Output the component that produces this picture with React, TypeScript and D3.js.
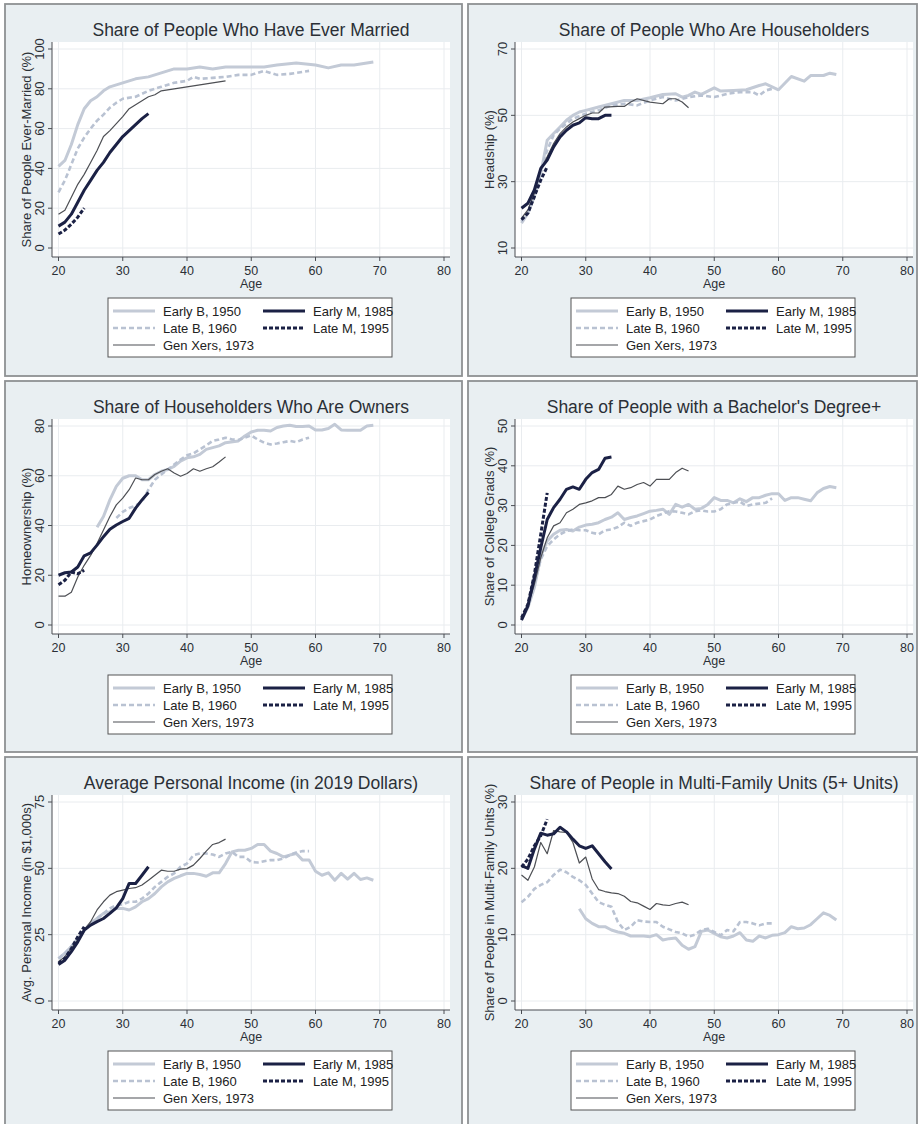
import React from 'react';
import * as d3 from 'd3';

type Pt = [number, number];

const AGE_TICKS = [20, 30, 40, 50, 60, 70, 80];

// ---- Ever married (%) ----
const marriedEarlyB: Pt[] = [[20,41],[21,44],[22,52],[23,62],[24,70],[25,74],[26,76],[27,79],[28,81],[29,82],[30,83],[32,85],[34,86],[36,88],[38,90],[40,90],[42,91],[44,90],[46,91],[48,91],[50,91],[52,91],[54,92],[57,93],[60,92],[62,90.5],[64,92],[66,92],[68,93],[69,93.5]];
const marriedLateB: Pt[] = [[20,28],[21,34],[22,42],[23,50],[24,55.5],[25,60],[26,64],[27,67],[28,70.5],[29,73],[30,75],[32,76],[34,79],[36,81],[38,83],[40,84],[41,86],[42,85],[44,85.5],[46,86],[48,87],[50,87],[52,89],[54,87],[56,87.5],[58,88.5],[59,89]];
const marriedGenX: Pt[] = [[20,17],[21,19],[22,25.5],[23,32],[24,37],[25,43],[26,49],[27,56],[28,59],[29,62.5],[30,66],[31,70],[32,72],[33,74],[34,76],[35,77],[36,79],[38,80],[40,81],[42,82],[44,83],[46,84]];
const marriedEarlyM: Pt[] = [[20,11],[21,13],[22,17],[23,23],[24,29],[25,34],[26,39],[27,43],[28,48],[29,52],[30,56],[31,59],[32,62],[33,65],[34,67.5]];
const marriedLateM: Pt[] = [[20,7],[21,9],[22,12],[23,15.5],[24,20]];

// ---- Headship (%) ----
const headEarlyB: Pt[] = [[20,17.5],[21,20.5],[22,25.5],[23,32.5],[24,42.5],[25,44.5],[26,46.5],[27,48.5],[28,50],[29,51],[30,51.5],[31,52],[32,52.5],[34,53.5],[36,54.5],[38,54.5],[40,55.3],[42,56.3],[44,56.5],[45,55.5],[46,56],[47,57],[48,56.3],[49,57.3],[50,58.3],[51,57.3],[53,57.5],[55,57.7],[57,59],[58,59.5],[60,57.7],[62,61.7],[64,60.3],[65,62],[67,62],[68,62.7],[69,62.3]];
const headLateB: Pt[] = [[20,18],[21,21],[22,26],[23,33.5],[24,39.5],[25,44],[26,46],[28,49],[30,50.5],[32,51.5],[34,53],[36,53.5],[38,53],[40,54.5],[42,55.5],[44,54.5],[46,55.5],[48,56],[50,55.5],[52,56.5],[54,57],[56,57],[57,56],[58,57.5],[59,58]];
const headGenX: Pt[] = [[20,19],[21,21.5],[22,26.5],[23,33.5],[24,37.5],[25,41.5],[26,44.5],[27,46.5],[28,48],[29,49],[30,50],[31,50.7],[32,50.7],[33,52.5],[35,52.7],[36,52.7],[37,54],[38,55],[40,54],[42,53.5],[43,55],[44,55],[45,54],[46,52.3]];
const headEarlyM: Pt[] = [[20,22],[21,23.5],[22,27.5],[23,34],[24,36.5],[25,40.5],[26,43.5],[27,45.5],[28,47],[29,47.7],[30,49.3],[31,49],[32,49],[33,50],[34,50]];
const headLateM: Pt[] = [[20,18.5],[21,20.5],[22,25.5],[23,30.5],[24,34.5]];

// ---- Homeownership among householders (%) ----
const ownEarlyB: Pt[] = [[26,39.3],[27,43.6],[28,50.3],[29,55.7],[30,59],[31,60],[32,60],[33,58.4],[34,58.4],[35,60.5],[36,61.8],[37,62.5],[38,63.8],[39,65.9],[40,67.2],[41,67.6],[42,68.6],[43,70.6],[44,71.3],[45,72],[46,73.3],[48,74],[49,76],[50,77.6],[51,78.3],[52,78.3],[53,78],[54,79.4],[55,80],[56,80.3],[57,79.8],[58,79.8],[59,80],[60,78.4],[61,78.4],[62,79],[63,80.7],[64,78.4],[65,78.3],[67,78.3],[68,80],[69,80.3]];
const ownLateB: Pt[] = [[29,43],[30,45.5],[31,47],[32,48],[33,49.5],[34,54.4],[35,58.4],[36,60.5],[37,62.5],[38,64.5],[39,66.5],[40,68.2],[41,69],[42,70.6],[43,72.2],[44,74],[45,74.6],[46,75.3],[47,74.6],[48,74.4],[49,75.3],[50,76.2],[51,74.6],[52,73.3],[53,72.6],[54,73],[55,73.5],[56,74],[57,73.5],[58,74.6],[59,75.3]];
const ownGenX: Pt[] = [[20,11.6],[21,11.6],[22,13.2],[23,19.3],[24,24],[25,28],[26,32.8],[27,38.2],[28,43.6],[29,48.3],[30,51],[31,54.4],[32,59.1],[33,58.4],[34,58.4],[35,60.5],[36,61.8],[37,62.8],[38,61.1],[39,59.8],[40,60.9],[41,62.8],[42,61.8],[43,62.8],[44,63.6],[45,65.5],[46,67.6]];
const ownEarlyM: Pt[] = [[20,20],[21,21],[22,21.3],[23,23.3],[24,27.8],[25,29],[26,32.1],[27,35.5],[28,38.5],[29,40.2],[30,41.6],[31,42.9],[32,47],[33,50.3],[34,53.3]];
const ownLateM: Pt[] = [[20,16.2],[21,18],[22,21.3],[23,20.6],[24,22]];

// ---- Bachelor's degree or more (%) ----
const collEarlyB: Pt[] = [[20,1.4],[21,4.4],[22,9.4],[23,17.3],[24,21.1],[25,22.8],[26,23.8],[27,24],[28,23.6],[29,24.6],[30,25.1],[31,25.3],[32,25.7],[33,26.5],[34,27.1],[35,28.2],[36,26.5],[37,27],[38,27.4],[39,28],[40,28.6],[41,28.8],[42,29.1],[43,27.8],[44,30.3],[45,29.6],[46,30.3],[47,29.1],[48,29.3],[49,30.3],[50,32],[51,31.3],[52,31.3],[53,30.7],[54,31.7],[55,31],[56,32],[57,32],[58,32.6],[59,33],[60,33],[61,31.3],[62,32],[63,32],[64,31.6],[65,31.2],[66,33.2],[67,34.3],[68,34.8],[69,34.5]];
const collLateB: Pt[] = [[20,1.4],[21,5.2],[22,10.2],[23,16.5],[24,19.8],[25,21.5],[26,22.8],[27,23.6],[28,24],[29,23.8],[30,23.8],[31,23.2],[32,22.8],[33,23.8],[34,24],[35,24.6],[36,25.7],[37,24.9],[38,25.7],[39,26.1],[40,26.5],[41,27.4],[42,28],[43,28.6],[44,28.5],[45,28.2],[46,27.8],[47,28.6],[48,28.8],[49,28.5],[50,28.5],[51,29.1],[52,30.3],[53,30.7],[54,31],[55,29.9],[56,30.3],[57,30.5],[58,30.7],[59,31.8]];
const collGenX: Pt[] = [[20,1.8],[21,4.8],[22,10.2],[23,16.9],[24,21.9],[25,24.9],[26,25.7],[27,28.2],[28,29.1],[29,30.3],[30,30.7],[31,31.2],[32,32],[33,32],[34,32.8],[35,34.9],[36,34.1],[37,34.5],[38,35.3],[39,35.8],[40,34.9],[41,36.6],[42,36.6],[43,36.6],[44,38.3],[45,39.4],[46,38.7]];
const collEarlyM: Pt[] = [[20,1.2],[21,4.8],[22,11.9],[23,19.4],[24,26.5],[25,29.5],[26,31.6],[27,34.1],[28,34.7],[29,34.1],[30,36.6],[31,38.3],[32,39.1],[33,41.9],[34,42.2]];
const collLateM: Pt[] = [[20,1.8],[21,5.2],[22,12.7],[23,22.8],[24,33.2]];

// ---- Average personal income ($1,000s, 2019 dollars) ----
const incEarlyB: Pt[] = [[20,16],[21,18],[22,20.5],[23,23.6],[24,26.7],[25,29.2],[26,31.1],[27,33],[28,33.6],[29,34.9],[30,34.9],[31,34.3],[32,35.5],[33,37.4],[34,38.6],[35,40.5],[36,43],[37,44.9],[38,46.2],[39,47.2],[40,48.1],[41,48.1],[42,47.7],[43,47],[44,48.3],[45,48.3],[46,51.8],[47,56.2],[48,56.8],[49,56.8],[50,57.5],[51,59],[52,59],[53,56.5],[54,55.6],[55,54.3],[56,55],[57,55.6],[58,53.1],[59,53.1],[60,48.9],[61,47.4],[62,48.3],[63,45.5],[64,48.1],[65,45.9],[66,48.1],[67,45.8],[68,46.4],[69,45.5]];
const incLateB: Pt[] = [[20,16],[21,18],[22,20.5],[23,23.6],[24,26.7],[25,29.2],[26,31.1],[27,33],[28,34.9],[29,36.1],[30,36.4],[31,37.4],[32,37.4],[33,38.6],[34,40.5],[35,43],[36,44.9],[37,46.8],[38,48.1],[39,50.6],[40,51.8],[41,55],[42,55.6],[43,55.6],[44,55.2],[45,54.3],[46,55.6],[47,56.2],[48,54.3],[49,54.3],[50,52.4],[51,52.2],[52,52.7],[53,53.1],[54,53.1],[55,53.7],[56,55],[57,56],[58,56.5],[59,56.5]];
const incGenX: Pt[] = [[20,14.8],[21,16.7],[22,19.8],[23,23],[24,26.7],[25,29.9],[26,34.3],[27,37.4],[28,39.9],[29,41.2],[30,41.8],[31,42.4],[32,42.7],[33,43.7],[34,45.5],[35,47.4],[36,49.3],[37,48.9],[38,48.9],[39,49.7],[40,49.9],[41,51.2],[42,53.7],[43,56.5],[44,59],[45,59.7],[46,61]];
const incEarlyM: Pt[] = [[20,13.8],[21,15.4],[22,18.6],[23,22.3],[24,26.7],[25,28.6],[26,29.9],[27,31.1],[28,33],[29,35.1],[30,38.6],[31,44.3],[32,44.3],[33,47.4],[34,50.6]];
const incLateM: Pt[] = [[20,14.2],[21,16],[22,19.8],[23,24.2],[24,28]];

// ---- Living in multi-family (5+ unit) structures (%) ----
const mfuEarlyB: Pt[] = [[29,13.9],[30,12.4],[31,11.7],[32,11.2],[33,11.2],[34,10.7],[35,10.4],[36,10.2],[37,9.8],[38,9.8],[39,9.8],[40,9.7],[41,10],[42,9.2],[43,9.4],[44,9.5],[45,8.4],[46,7.8],[47,8.2],[48,10.5],[49,10.7],[50,10.2],[51,9.7],[52,9.5],[53,9.8],[54,10.3],[55,9.2],[56,9],[57,9.8],[58,9.5],[59,9.9],[60,10],[61,10.3],[62,11.2],[63,10.9],[64,11],[65,11.5],[66,12.4],[67,13.3],[68,12.9],[69,12.2]];
const mfuLateB: Pt[] = [[20,14.9],[21,15.7],[22,16.9],[23,17.5],[24,17.9],[25,19],[26,19.8],[27,19.4],[28,18.7],[29,18.2],[30,17.5],[31,16.2],[32,14.9],[33,14.5],[34,14.2],[35,11.9],[36,10.7],[37,11.2],[38,12.2],[39,12],[40,11.9],[41,11.9],[42,11.2],[43,10.8],[44,10.4],[45,10.2],[46,9.7],[47,10],[48,10.7],[49,10.9],[50,10.4],[51,9.9],[52,10.7],[53,10.5],[54,11.9],[55,11.9],[56,11.7],[57,11.4],[58,11.7],[59,11.7]];
const mfuGenX: Pt[] = [[20,19],[21,18.2],[22,20.2],[23,23.9],[24,22.2],[25,25.7],[26,25.5],[27,25.4],[28,23.9],[29,20.8],[30,21.7],[31,18.4],[32,16.8],[33,16.5],[34,16.3],[35,16.2],[36,15.8],[37,15],[38,14.8],[39,14.3],[40,13.8],[41,14.7],[42,14.5],[43,14.4],[44,14.7],[45,14.9],[46,14.5]];
const mfuEarlyM: Pt[] = [[20,20.4],[21,20],[22,22.9],[23,25.3],[24,25],[25,25.2],[26,26.2],[27,25.5],[28,24.4],[29,23.4],[30,23],[31,23.4],[32,22.2],[33,21],[34,19.9]];
const mfuLateM: Pt[] = [[20,20.2],[21,21.4],[22,23.4],[23,24.9],[24,27.4]];

type Cohort = { label: string; color: string; width: number; dash?: string };

// Cohort styles, in drawing order (lightest first so the dark lines sit on top)
const COHORTS: Cohort[] = [
  { label: 'Early B, 1950', color: '#c3cad6', width: 3 },
  { label: 'Late B, 1960', color: '#b9c2d2', width: 2.6, dash: '5,3' },
  { label: 'Gen Xers, 1973', color: '#4d4f54', width: 1.2 },
  { label: 'Early M, 1985', color: '#1b2145', width: 3 },
  { label: 'Late M, 1995', color: '#1b2145', width: 3, dash: '4,2' },
];

type PanelSpec = {
  title: string;
  yLabel: string;
  yTicks: number[];
  series: Pt[][];
};

const PANELS: PanelSpec[] = [
  { title: 'Share of People Who Have Ever Married', yLabel: 'Share of People Ever-Married (%)', yTicks: [0, 20, 40, 60, 80, 100], series: [marriedEarlyB, marriedLateB, marriedGenX, marriedEarlyM, marriedLateM] },
  { title: 'Share of People Who Are Householders', yLabel: 'Headship (%)', yTicks: [10, 30, 50, 70], series: [headEarlyB, headLateB, headGenX, headEarlyM, headLateM] },
  { title: 'Share of Householders Who Are Owners', yLabel: 'Homeownership (%)', yTicks: [0, 20, 40, 60, 80], series: [ownEarlyB, ownLateB, ownGenX, ownEarlyM, ownLateM] },
  { title: "Share of People with a Bachelor's Degree+", yLabel: 'Share of College Grads (%)', yTicks: [0, 10, 20, 30, 40, 50], series: [collEarlyB, collLateB, collGenX, collEarlyM, collLateM] },
  { title: 'Average Personal Income (in 2019 Dollars)', yLabel: 'Avg. Personal Income (in $1,000s)', yTicks: [0, 25, 50, 75], series: [incEarlyB, incLateB, incGenX, incEarlyM, incLateM] },
  { title: 'Share of People in Multi-Family Units (5+ Units)', yLabel: 'Share of People in Multi-Family Units (%)', yTicks: [0, 10, 20, 30], series: [mfuEarlyB, mfuLateB, mfuGenX, mfuEarlyM, mfuLateM] },
];

const FONT = "'Liberation Sans', Arial, Helvetica, sans-serif";
const TEXT = '#2b2f36';

const COL_X = [5, 468];
const COL_W = [457, 449];
const ROW_Y = [4, 381, 757];
const ROW_H = [372, 371, 372];

// Layout inside each panel (panel-relative coordinates)
const PLOT_LEFT = 47;
const PLOT_RIGHT = 445;
const PLOT_TOP = 38;
const PLOT_BOTTOM = 253;
const X_RANGE: [number, number] = [53.5, 439];
const Y_RANGE: [number, number] = [244, 45];

function Legend({ x, y }: { x: number; y: number }) {
  const slots = [
    { c: 0, col: 0, row: 0 },
    { c: 3, col: 1, row: 0 },
    { c: 1, col: 0, row: 1 },
    { c: 4, col: 1, row: 1 },
    { c: 2, col: 0, row: 2 },
  ];
  return (
    <g transform={`translate(${x},${y})`}>
      <rect x={0} y={0} width={284} height={59} fill="#fff" stroke="#555" strokeWidth={1} />
      {slots.map((s) => {
        const co = COHORTS[s.c];
        const lx = s.col === 0 ? 5 : 155;
        const ly = 13 + s.row * 17;
        return (
          <g key={s.c}>
            <line x1={lx} x2={lx + 42} y1={ly} y2={ly} stroke={co.color} strokeWidth={co.width} strokeDasharray={co.dash} />
            <text x={lx + 50} y={ly + 4.5} fontSize={13} fill="#222" fontFamily={FONT}>{co.label}</text>
          </g>
        );
      })}
    </g>
  );
}

function Panel({ spec, x, y, w, h }: { spec: PanelSpec; x: number; y: number; w: number; h: number }) {
  const xs = d3.scaleLinear().domain([20, 80]).range(X_RANGE);
  const yExt = d3.extent(spec.yTicks) as [number, number];
  const ys = d3.scaleLinear().domain(yExt).range(Y_RANGE);
  const line = d3.line<Pt>().x((d) => xs(d[0])).y((d) => ys(d[1]));
  const cx = (PLOT_LEFT + PLOT_RIGHT) / 2;
  const cy = (PLOT_TOP + PLOT_BOTTOM) / 2;
  return (
    <g transform={`translate(${x},${y})`}>
      <rect x={0} y={0} width={w} height={h} fill="#e9eff2" stroke="#8e9193" strokeWidth={1.8} />
      <text x={cx} y={32} textAnchor="middle" fontSize={17.5} fill={TEXT} fontFamily={FONT}>{spec.title}</text>
      <rect x={PLOT_LEFT} y={PLOT_TOP} width={PLOT_RIGHT - PLOT_LEFT} height={PLOT_BOTTOM - PLOT_TOP} fill="#fff" />
      {spec.yTicks.map((t) => (
        <line key={'gy' + t} x1={PLOT_LEFT} x2={PLOT_RIGHT} y1={ys(t)} y2={ys(t)} stroke="#e9ecef" strokeWidth={1} />
      ))}
      {AGE_TICKS.map((t) => (
        <line key={'gx' + t} x1={xs(t)} x2={xs(t)} y1={PLOT_TOP} y2={PLOT_BOTTOM} stroke="#e9ecef" strokeWidth={1} />
      ))}
      {spec.series.map((s, i) => {
        const co = COHORTS[i];
        return (
          <path key={i} d={line(s) || ''} fill="none" stroke={co.color} strokeWidth={co.width} strokeDasharray={co.dash} strokeLinejoin="round" />
        );
      })}
      {/* axes */}
      <line x1={PLOT_LEFT} x2={PLOT_LEFT} y1={PLOT_TOP} y2={PLOT_BOTTOM} stroke="#4a4d52" strokeWidth={1} />
      <line x1={PLOT_LEFT} x2={PLOT_RIGHT} y1={PLOT_BOTTOM} y2={PLOT_BOTTOM} stroke="#4a4d52" strokeWidth={1} />
      {spec.yTicks.map((t) => (
        <g key={'ty' + t}>
          <line x1={PLOT_LEFT - 4} x2={PLOT_LEFT} y1={ys(t)} y2={ys(t)} stroke="#4a4d52" strokeWidth={1} />
          <text transform={`translate(${PLOT_LEFT - 8},${ys(t)}) rotate(-90)`} textAnchor="middle" fontSize={13} fill={TEXT} fontFamily={FONT}>{t}</text>
        </g>
      ))}
      {AGE_TICKS.map((t) => (
        <g key={'tx' + t}>
          <line x1={xs(t)} x2={xs(t)} y1={PLOT_BOTTOM} y2={PLOT_BOTTOM + 4} stroke="#4a4d52" strokeWidth={1} />
          <text x={xs(t)} y={PLOT_BOTTOM + 18} textAnchor="middle" fontSize={12.5} fill={TEXT} fontFamily={FONT}>{t}</text>
        </g>
      ))}
      <text x={cx} y={PLOT_BOTTOM + 31} textAnchor="middle" fontSize={12.5} fill={TEXT} fontFamily={FONT}>Age</text>
      <text transform={`translate(26,${cy}) rotate(-90)`} textAnchor="middle" fontSize={13} fill={TEXT} fontFamily={FONT}>{spec.yLabel}</text>
      <Legend x={103} y={294} />
    </g>
  );
}

export default function App() {
  return (
    <svg width={919} height={1124} style={{ position: 'absolute', left: 0, top: 0, background: '#fff' }}>
      {PANELS.map((p, i) => {
        const col = i % 2;
        const row = Math.floor(i / 2);
        return <Panel key={i} spec={p} x={COL_X[col]} y={ROW_Y[row]} w={COL_W[col]} h={ROW_H[row]} />;
      })}
    </svg>
  );
}
